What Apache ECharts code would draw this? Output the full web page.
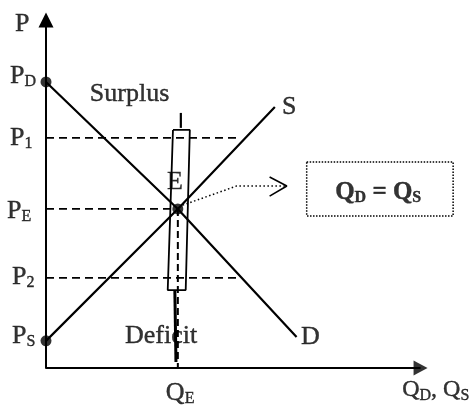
<!DOCTYPE html>
<html>
<head>
<meta charset="utf-8">
<script src="https://cdn.jsdelivr.net/npm/echarts@6/dist/echarts.min.js"></script>
<style>
    html, body { margin: 0; padding: 0; background: #fff; }
    #main { width: 470px; height: 406px; }
</style>
</head>
<body>
<div id="main"></div>
<script>
    // price levels on the vertical axis
    var pD = 8.22, p1 = 6.61, pE = 4.57, p2 = 2.59, pS = 0.78;
    var qE = 3.52;

    // supply and demand curves
    var supplyLine = [[0, pS], [qE, pE], [6.11, 7.50]];
    var demandLine = [[0, pD], [qE, pE], [6.69, 0.89]];
    // horizontal axis, drawn up to its arrow
    var qAxisLine = [[0, 0], [10, 0]];
    var qAxisTip = [[10, 0]];
    // dashed guides
    var surplusGuide = [[0, p1], [5.17, p1]];
    var deficitGuide = [[0, p2], [5.09, p2]];
    var priceGuide = [[0, pE], [qE, pE]];
    var qtyGuide = [[qE, pE], [qE, 0]];
    // the bracket drawn round Q_E
    var bracketTick = [[3.60, 7.33], [3.60, 6.90]];
    var bracketBox = [[3.39, 6.84], [3.84, 6.84], [3.73, 2.24], [3.25, 2.24], [3.39, 6.84]];
    var bracketStem = [[3.44, 2.24], [3.47, 0.17]];
    // dotted pointer to the box
    var pointer = [[3.65, 4.68], [5.09, 5.23], [6.43, 5.23]];
    var chevron = [[5.97, 5.49], [6.43, 5.23], [5.97, 4.94]];
    var noteBox = [[6.96, 5.92], [10.87, 5.92], [10.87, 4.37], [6.96, 4.37], [6.96, 5.92]];
    // marked points
    var dots = [[0, pD], [0, pS], [qE, pE]];

    // text labels: [text, x, y, align]
    var labels = [
        ['{m|P}', -0.83, 9.87, 'left'],
        ['{m|P}{s|D}', -0.96, 8.39, 'left'],
        ['{m|P}{s|1}', -0.96, 6.60, 'left'],
        ['{m|P}{s|E}', -1.04, 4.51, 'left'],
        ['{m|P}{s|2}', -0.91, 2.60, 'left'],
        ['{m|P}{s|S}', -0.91, 0.91, 'left'],
        ['{m|Surplus}', 1.17, 7.87, 'left'],
        ['{m|E}', 3.23, 5.34, 'left'],
        ['{m|S}', 6.30, 7.50, 'left'],
        ['{m|D}', 6.81, 0.89, 'left'],
        ['{m|Deficit}', 2.11, 0.91, 'left'],
        ['{m|Q}{s|E}', 3.20, -0.72, 'left'],
        ['{q|Q}{s|D}{q|, Q}{s|S}', 9.51, -0.63, 'left'],
        ['{b|Q}{bs|D}{b| = Q}{bs|S}', 8.87, 5.03, 'center']
    ];

    var font = '"Liberation Serif", "Times New Roman", serif';

    var chart = echarts.init(document.getElementById('main'), null, { renderer: 'canvas' });

    function seg(data, opts) {
        return Object.assign({
            type: 'line',
            data: data,
            symbol: 'none',
            clip: false,
            silent: true,
            lineStyle: { color: '#000', width: 2.2 }
        }, opts || {});
    }

    var dashed = { color: '#000', width: 1.8, type: [8, 5] };
    var ink = { color: '#000', textBorderColor: '#000', textBorderWidth: 0.4 };

    var option = {
        animation: false,
        backgroundColor: '#fff',
        grid: { left: 46, right: 12, top: 20, bottom: 38 },
        xAxis: {
            type: 'value', min: 0, max: 11,
            axisLine: { show: false },
            axisTick: { show: false }, axisLabel: { show: false }, splitLine: { show: false }
        },
        yAxis: {
            type: 'value', min: 0, max: 10,
            axisLine: { show: true, lineStyle: { color: '#000', width: 2 }, symbol: ['none', 'triangle'], symbolSize: [15, 15] },
            axisTick: { show: false }, axisLabel: { show: false }, splitLine: { show: false }
        },
        series: [
            seg(qAxisLine, { lineStyle: { color: '#000', width: 2 } }),
            {
                type: 'scatter',
                data: qAxisTip,
                symbol: 'triangle',
                symbolRotate: -90,
                symbolSize: [15, 14],
                silent: true,
                itemStyle: { color: '#000' }
            },
            seg(supplyLine),
            seg(demandLine),
            seg(surplusGuide, { lineStyle: dashed }),
            seg(deficitGuide, { lineStyle: dashed }),
            seg(priceGuide, { lineStyle: dashed }),
            seg(qtyGuide, { lineStyle: { color: '#000', width: 2, type: [7, 4] } }),
            seg(bracketTick, { lineStyle: { color: '#000', width: 2.2 } }),
            seg(bracketBox, { lineStyle: { color: '#000', width: 1.8 } }),
            seg(bracketStem, { lineStyle: { color: '#000', width: 3 } }),
            seg(pointer, { lineStyle: { color: '#000', width: 1.5, type: [1.5, 2.5] } }),
            seg(chevron, { lineStyle: { color: '#000', width: 1.6 } }),
            seg(noteBox, { lineStyle: { color: '#000', width: 1.5, type: [1.5, 1.5] } }),
            {
                type: 'scatter',
                data: dots,
                symbolSize: 11,
                clip: false,
                silent: true,
                itemStyle: { color: '#000' }
            },
            {
                type: 'scatter',
                data: labels.map(function (l) {
                    return { value: [l[1], l[2]], name: l[0], label: { align: l[3] } };
                }),
                symbolSize: 0,
                clip: false,
                silent: true,
                label: {
                    show: true,
                    position: 'inside',
                    verticalAlign: 'middle',
                    color: '#000',
                    textBorderWidth: 0,
                    formatter: function (p) { return p.name; },
                    rich: {
                        m: Object.assign({ fontFamily: font, fontSize: 26, lineHeight: 26 }, ink),
                        q: Object.assign({ fontFamily: font, fontSize: 24, lineHeight: 26 }, ink),
                        s: Object.assign({ fontFamily: font, fontSize: 16, lineHeight: 16, padding: [11, 0, 0, 0] }, ink),
                        b: Object.assign({ fontFamily: font, fontSize: 25, fontWeight: 'bold', lineHeight: 25 }, ink),
                        bs: Object.assign({ fontFamily: font, fontSize: 16, fontWeight: 'bold', lineHeight: 16, padding: [10, 0, 0, 0] }, ink)
                    }
                }
            }
        ]
    };
    chart.setOption(option);
</script>
</body>
</html>
